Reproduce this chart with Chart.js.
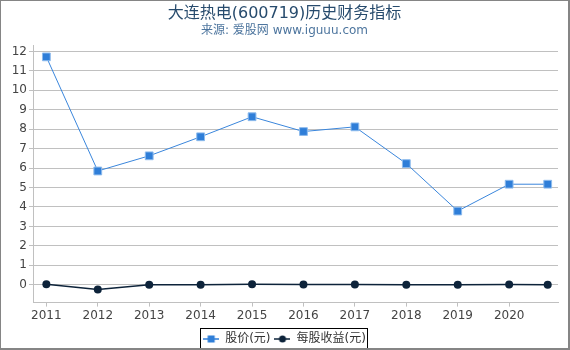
<!DOCTYPE html>
<html><head><meta charset="utf-8">
<script src="https://cdn.jsdelivr.net/npm/chart.js@4/dist/chart.umd.min.js"></script>
<style>
html,body{margin:0;padding:0;background:#fff;}
#wrap{width:570px;height:350px;box-sizing:border-box;border-style:solid;border-color:#858585;border-width:1px 2px 2px 1px;}
canvas{display:block;}
</style></head><body>
<div id="wrap"><canvas id="c" width="567" height="347"></canvas></div>
<script>
const titleText = '大连热电(600719)历史财务指标';
const subtitleText = '来源: 爱股网 www.iguuu.com';
const seriesNames = ['股价(元)', '每股收益(元)'];
const dates = [2011, 2012, 2013, 2014, 2015, 2016, 2017, 2018, 2019, 2020, 2020.75];
const yearTicks = [2011, 2012, 2013, 2014, 2015, 2016, 2017, 2018, 2019, 2020];
const stockPrice = [11.72, 5.85, 6.63, 7.61, 8.64, 7.88, 8.12, 6.23, 3.79, 5.17, 5.17];
const eps = [0.03, -0.24, 0.0, 0.0, 0.03, 0.01, 0.01, 0.0, 0.0, 0.01, 0.0];
const valueTicks = [0, 1, 2, 3, 4, 5, 6, 7, 8, 9, 10, 11, 12];

const blue = '#2f7ed8';
const navy = '#0d233a';
Chart.defaults.font.family = "'DejaVu Sans','Noto Sans CJK SC',sans-serif";

function legendIcon(color, style) {
  const cv = document.createElement('canvas');
  cv.width = 16; cv.height = 10;
  const g = cv.getContext('2d');
  g.strokeStyle = color; g.lineWidth = 1.5;
  g.beginPath(); g.moveTo(0, 5); g.lineTo(16, 5); g.stroke();
  g.fillStyle = color;
  if (style === 'rect') { g.fillRect(4.5, 1.5, 7, 7); }
  else { g.beginPath(); g.arc(8, 5, 3.5, 0, Math.PI * 2); g.fill(); }
  return cv;
}
const icons = [legendIcon(blue, 'rect'), legendIcon(navy, 'circle')];

const legendBox = {
  id: 'legendBox',
  afterDraw(chart) {
    const lg = chart.legend;
    if (!lg || !lg.legendHitBoxes || !lg.legendHitBoxes.length) return;
    let l = Infinity, r = -Infinity, t = Infinity, b = -Infinity;
    lg.legendHitBoxes.forEach(h => { l = Math.min(l, h.left); r = Math.max(r, h.left + h.width); t = Math.min(t, h.top); b = Math.max(b, h.top + h.height); });
    const ctx = chart.ctx;
    ctx.save();
    ctx.strokeStyle = '#000'; ctx.lineWidth = 1;
    ctx.strokeRect(Math.round(l) - 2.5, Math.round(t) - 4.5, Math.round(r - l) + 4, Math.round(b - t) + 8);
    ctx.restore();
  }
};

new Chart(document.getElementById('c'), {
  type: 'line',
  data: {
    datasets: [
      { label: seriesNames[0], data: dates.map((d, i) => ({ x: d, y: stockPrice[i] })),
        borderColor: '#3a86dc', borderWidth: 1, backgroundColor: blue,
        pointStyle: 'rect', pointRadius: 5.5, pointBackgroundColor: blue, pointBorderColor: '#8dbbed', pointBorderWidth: 1, tension: 0 },
      { label: seriesNames[1], data: dates.map((d, i) => ({ x: d, y: eps[i] })),
        borderColor: navy, borderWidth: 1.5, backgroundColor: navy,
        pointStyle: 'circle', pointRadius: 4, pointBackgroundColor: navy, pointBorderColor: navy, pointBorderWidth: 0, tension: 0 }
    ]
  },
  options: {
    responsive: false, animation: false, devicePixelRatio: 1,
    layout: { padding: { left: 10, right: 10, top: 0, bottom: -7 } },
    plugins: {
      title: { display: true, text: titleText, color: '#274b6d', font: { size: 16, weight: 'normal' }, padding: { top: 3, bottom: 0 } },
      subtitle: { display: true, text: subtitleText, color: '#4d759e', font: { size: 12, weight: 'normal' }, padding: { top: 0, bottom: 8 } },
      legend: { position: 'bottom',
        labels: { usePointStyle: true, pointStyleWidth: 16, color: '#333', font: { size: 12 }, padding: 4, boxHeight: 12,
          generateLabels(chart) {
            const items = Chart.defaults.plugins.legend.labels.generateLabels(chart);
            items.forEach((it, i) => { it.pointStyle = icons[i]; });
            return items;
          } } },
      tooltip: { enabled: false }
    },
    scales: {
      x: { type: 'linear', min: 2010.74, max: 2020.95,
        afterBuildTicks(s) { s.ticks = yearTicks.map(v => ({ value: v })); },
        afterFit(s) { s.height = s.height + 4; },
        ticks: { color: '#444', font: { size: 12 }, padding: 2, maxRotation: 0, autoSkip: false, callback: v => String(v) },
        grid: { drawOnChartArea: false, drawTicks: true, tickLength: 4, color: '#c0c0c0' },
        border: { display: true, color: '#c0c0c0' } },
      y: { type: 'linear', min: -0.92, max: 12.3,
        afterBuildTicks(s) { s.ticks = valueTicks.map(v => ({ value: v })); },
        afterFit(s) { s.width = 22; },
        ticks: { color: '#444', font: { size: 12 }, padding: 2, callback: v => String(v) },
        grid: { color: '#c0c0c0', tickLength: 4 },
        border: { display: true, color: '#c0c0c0' } }
    }
  },
  plugins: [legendBox]
});
</script></body></html>
